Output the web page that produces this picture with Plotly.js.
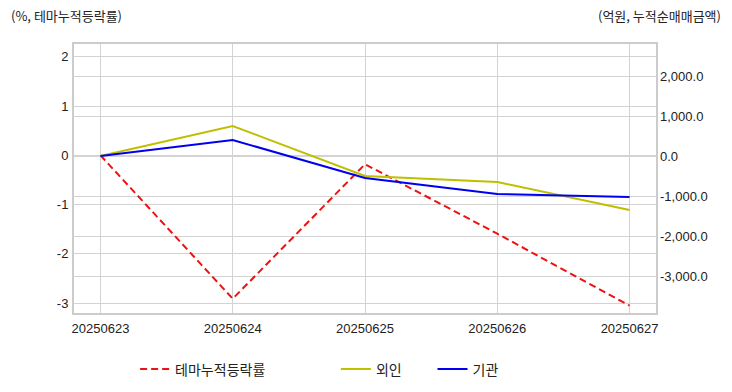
<!DOCTYPE html>
<html>
<head>
<meta charset="utf-8">
<script src="https://cdn.plot.ly/plotly-3.0.1.min.js"></script>
<style>html,body{margin:0;padding:0;background:#fff;}#chart{width:732px;height:392px;}</style>
</head>
<body>
<div id="chart"></div>
<script>
const dates = ["20250623", "20250624", "20250625", "20250626", "20250627"];
const themeReturn = [0, -2.91, -0.18, -1.59, -3.05];
const foreign = [0, 750, -500, -650, -1350];
const institution = [0, 400, -550, -950, -1025];
const leftTicks = [2, 1, 0, -1, -2, -3];
const leftTickText = ["2", "1", "0", "-1", "-2", "-3"];
const rightTicks = [2000, 1000, 0, -1000, -2000, -3000];
const rightTickText = ["2,000.0", "1,000.0", "0.0", "-1,000.0", "-2,000.0", "-3,000.0"];
const names = ["테마누적등락률", "외인", "기관"];

const FONT = "Liberation Sans, Arial, 'Noto Sans CJK KR', sans-serif";
const KFONT = "'Noto Sans CJK KR', 'Liberation Sans', sans-serif";

const traces = [
  {x: dates, y: themeReturn, name: names[0], type: 'scatter', mode: 'lines', yaxis: 'y',
   line: {color: '#ee1111', width: 2, dash: '7px,4px'}, legend: 'legend'},
  {x: dates, y: foreign, name: names[1], type: 'scatter', mode: 'lines', yaxis: 'y2',
   line: {color: '#bfbf00', width: 2}, legend: 'legend2'},
  {x: dates, y: institution, name: names[2], type: 'scatter', mode: 'lines', yaxis: 'y2',
   line: {color: '#0000ee', width: 2}, legend: 'legend3'}
];

const legendBase = {orientation: 'h', xanchor: 'left', y: -0.21, yanchor: 'middle',
  font: {family: KFONT, size: 14, color: '#222'}, bgcolor: 'rgba(0,0,0,0)'};

const layout = {
  width: 732, height: 392,
  margin: {l: 74, r: 76, t: 44, b: 79, autoexpand: false},
  paper_bgcolor: '#ffffff', plot_bgcolor: '#ffffff',
  font: {family: FONT, size: 13, color: '#222'},
  xaxis: {type: 'category', range: [-0.2, 4.2], showgrid: true, gridcolor: '#d3d3d3', gridwidth: 1,
          showline: true, linecolor: '#cccccc', linewidth: 2, mirror: true, ticks: '', zeroline: false,
          ticklabelstandoff: 2, automargin: false,
          tickfont: {family: FONT, size: 13, color: '#222'}},
  yaxis: {range: [-3.2, 2.26], tickvals: leftTicks, ticktext: leftTickText, showgrid: true,
          gridcolor: '#d3d3d3', gridwidth: 1, zeroline: false, showline: true, linecolor: '#cccccc',
          linewidth: 2, mirror: true, ticks: '', ticklabelstandoff: 1, automargin: false,
          tickfont: {family: FONT, size: 13, color: '#222'}},
  yaxis2: {overlaying: 'y', side: 'right', range: [-3925, 2800], tickvals: rightTicks, ticktext: rightTickText,
           showgrid: true, gridcolor: '#d3d3d3', gridwidth: 1, zeroline: false, ticks: '',
           ticklabelstandoff: 3, automargin: false,
           tickfont: {family: FONT, size: 13, color: '#222'}},
  showlegend: true,
  legend: Object.assign({}, legendBase, {x: 0.105}),
  legend2: Object.assign({}, legendBase, {x: 0.450}),
  legend3: Object.assign({}, legendBase, {x: 0.616}),
  annotations: [
    {text: '(%, 테마누적등락률)', xref: 'paper', yref: 'paper', x: -0.112, y: 1.105,
     xanchor: 'left', yanchor: 'middle', showarrow: false,
     font: {family: KFONT, size: 13, color: '#222'}},
    {text: '(억원, 누적순매매금액)', xref: 'paper', yref: 'paper', x: 1.115, y: 1.105,
     xanchor: 'right', yanchor: 'middle', showarrow: false,
     font: {family: KFONT, size: 13, color: '#222'}}
  ]
};

Plotly.newPlot('chart', traces, layout, {displayModeBar: false, staticPlot: true});
</script>
</body>
</html>
